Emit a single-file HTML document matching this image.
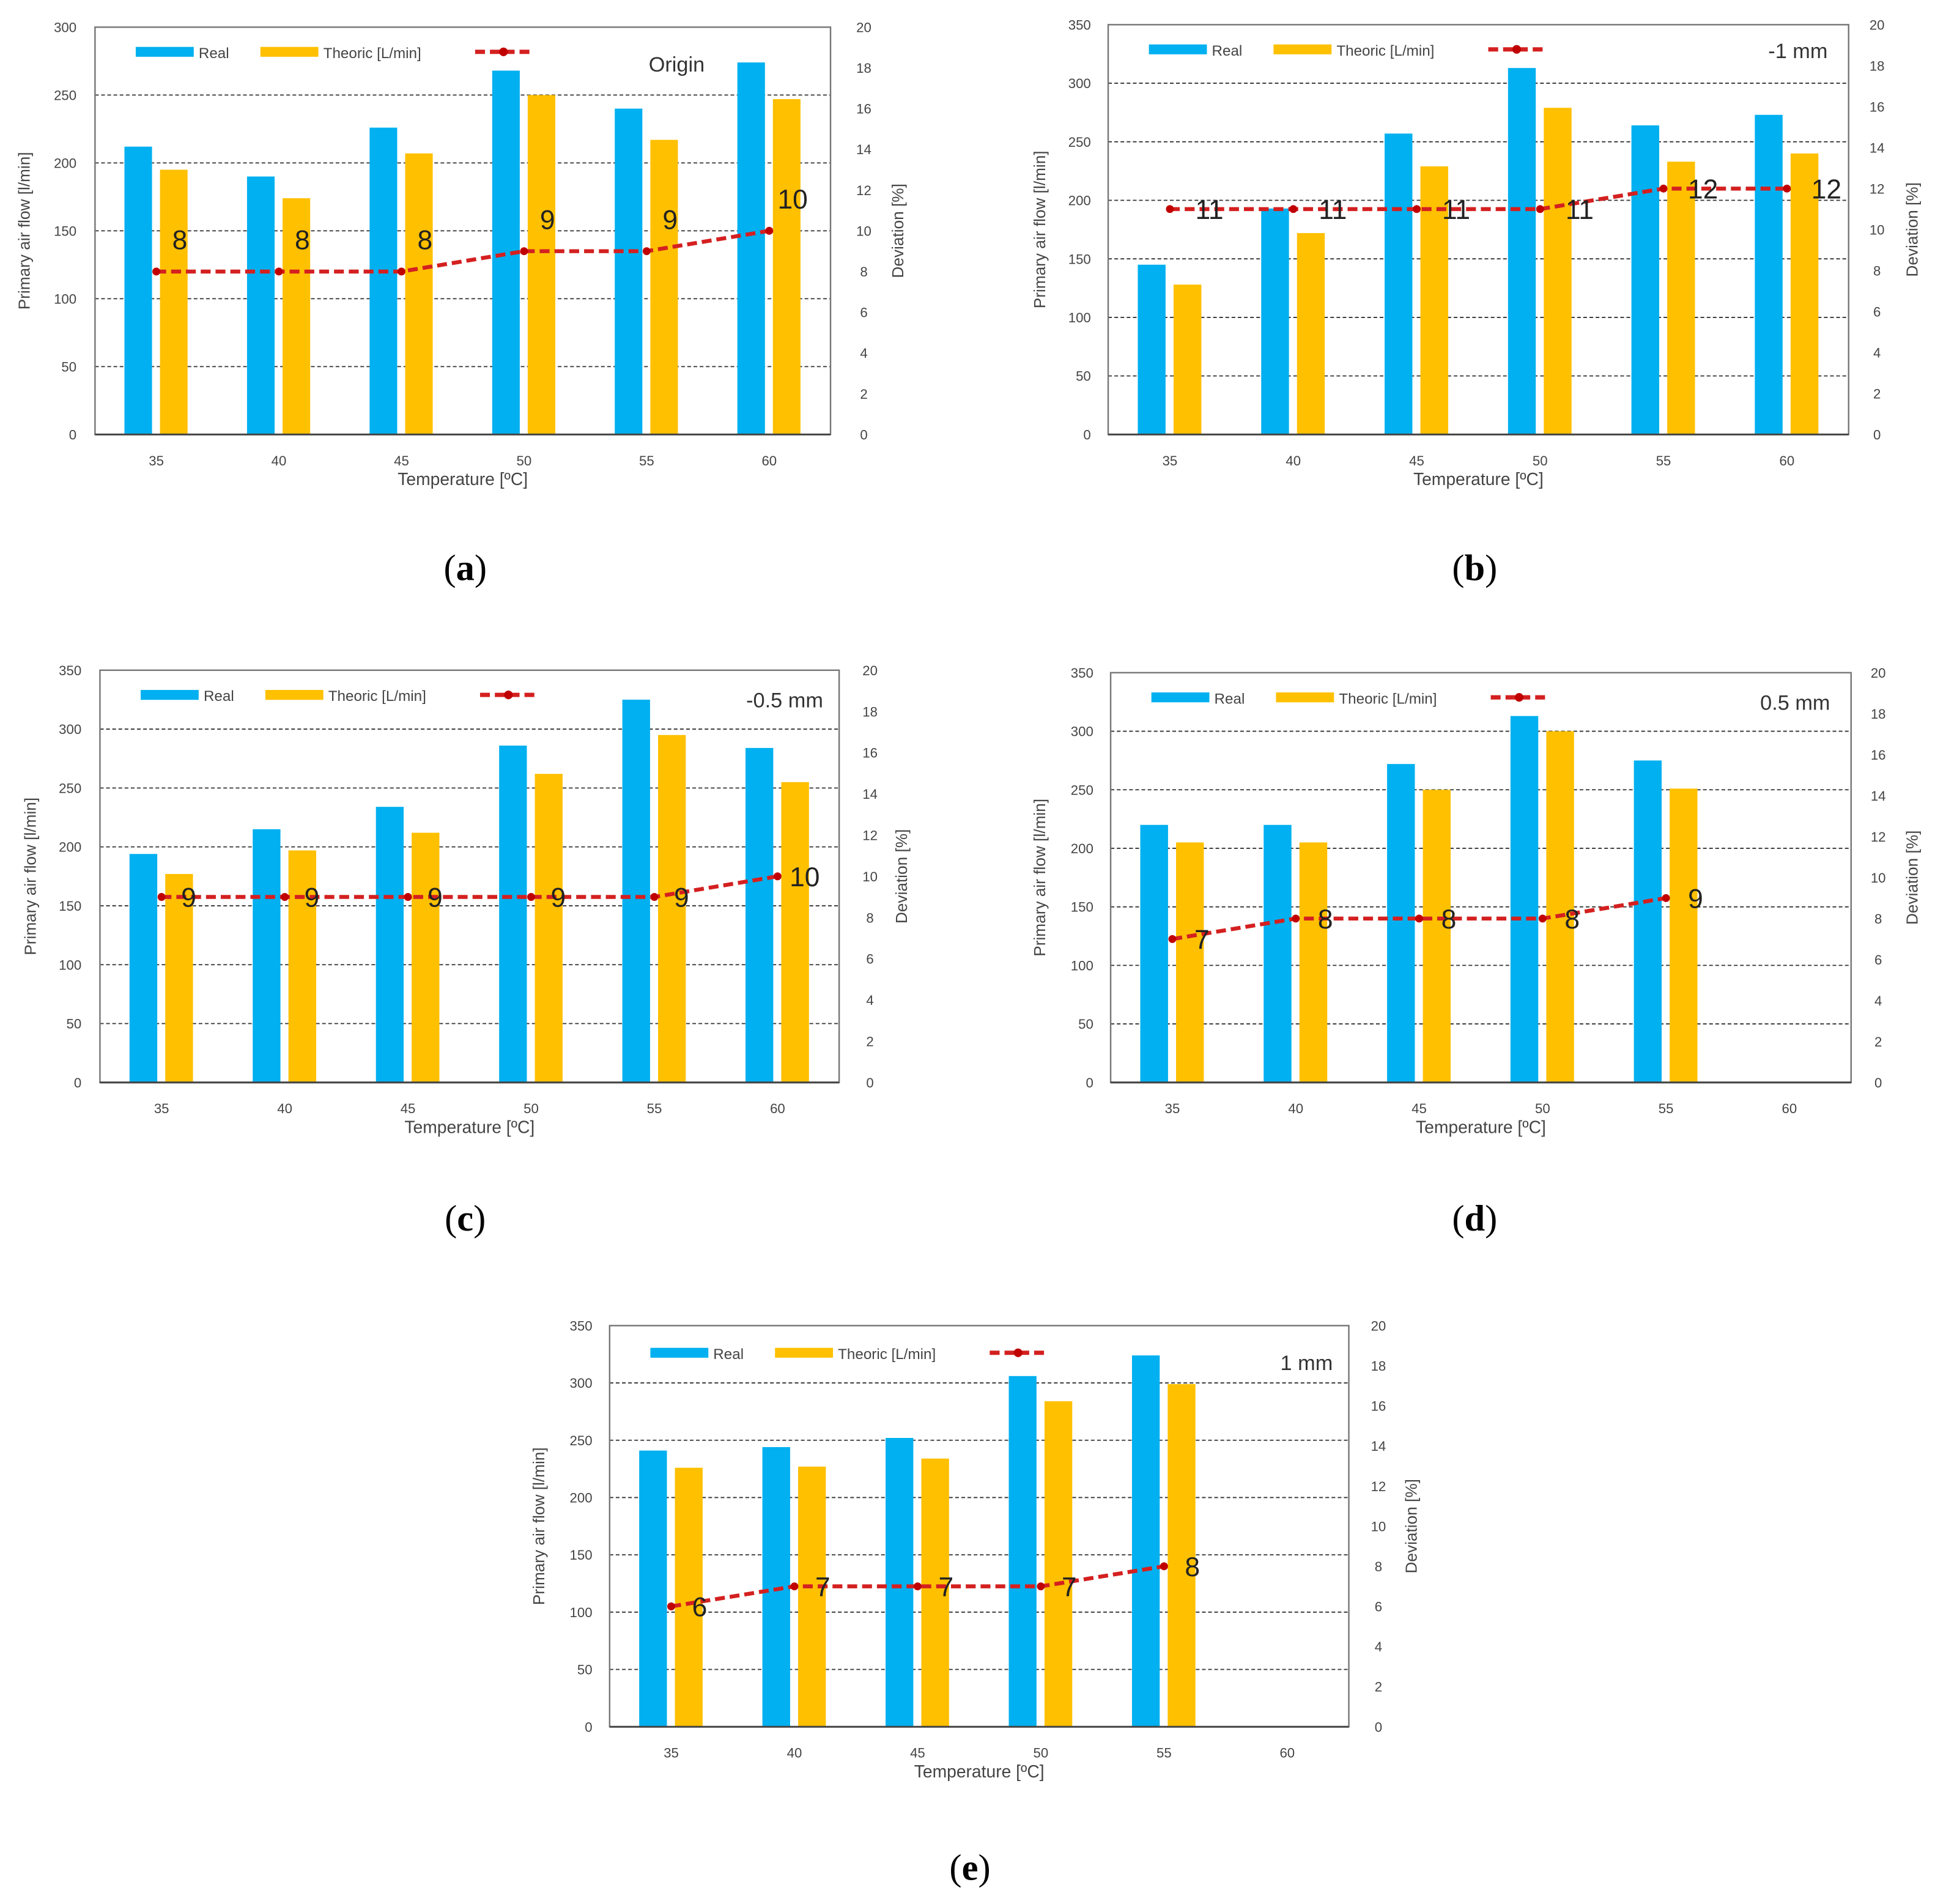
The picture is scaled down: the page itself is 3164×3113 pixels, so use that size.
<!DOCTYPE html>
<html><head><meta charset="utf-8"><style>
html,body{margin:0;padding:0;background:#fff;}
svg{display:block;}
</style></head><body>
<svg id="fig" width="3164" height="3113" viewBox="0 0 1568 1542.6" preserveAspectRatio="none" xmlns="http://www.w3.org/2000/svg"></svg>
<script>
const categories = ["35","40","45","50","55","60"];
const realA = [212,190,226,268,240,274];
const theoA = [195,174,207,250,217,247];
const devA = [8,8,8,9,9,10];
const realB = [145,193,257,313,264,273];
const theoB = [128,172,229,279,233,240];
const devB = [11,11,11,11,12,12];
const realC = [194,215,234,286,325,284];
const theoC = [177,197,212,262,295,255];
const devC = [9,9,9,9,9,10];
const realD = [220,220,272,313,275];
const theoD = [205,205,250,300,251];
const devD = [7,8,8,8,9];
const realE = [241,244,252,306,324];
const theoE = [226,227,234,284,299];
const devE = [6,7,7,7,8];
const rightTicks = [0,2,4,6,8,10,12,14,16,18,20];
const titles = ["Origin","-1 mm","-0.5 mm","0.5 mm","1 mm"];
const panelLabels = ["(a)","(b)","(c)","(d)","(e)"];

const NS="http://www.w3.org/2000/svg";
const svg=document.getElementById('fig');
function mk(tag,attrs,parent,text){const e=document.createElementNS(NS,tag);for(const k in attrs)e.setAttribute(k,attrs[k]);if(text!==undefined)e.textContent=text;(parent||svg).appendChild(e);return e;}

const panels=[
 {L:77,R:673,T:22,B:352,max:300,real:realA,theo:theoA,dev:devA,ll:62,rl:700,yt:20,rt:728,lab:[377,460],tx:571,ty:52,dx:19,dy:-26,ly:42},
 {L:898,R:1498,T:20,B:352,max:350,real:realB,theo:theoB,dev:devB,ll:884,rl:1521,yt:843,rt:1550,lab:[1195,460],tx:1481,ty:41,dx:32,dy:0,ly:40},
 {L:81,R:680,T:543,B:877,max:350,real:realC,theo:theoC,dev:devC,ll:66,rl:705,yt:25,rt:731,lab:[377,987],tx:667,ty:567,dx:22,dy:0,ly:563},
 {L:900,R:1500,T:545,B:877,max:350,real:realD,theo:theoD,dev:devD,ll:886,rl:1522,yt:843,rt:1550,lab:[1195,987],tx:1483,ty:569,dx:24,dy:0,ly:565},
 {L:494,R:1093,T:1074,B:1399,max:350,real:realE,theo:theoE,dev:devE,ll:480,rl:1117,yt:437,rt:1144,lab:[786,1513],tx:1080,ty:1104,dx:23,dy:0,ly:1096}
];
const F='"Liberation Sans", sans-serif';
panels.forEach((p,pi)=>{
 const g=mk('g',{});
 
 
 const cw=(p.R-p.L)/6;
 const y=v=>p.B-(v/p.max)*(p.B-p.T);
 const y2=v=>p.B-(v/20)*(p.B-p.T);
 const cx=i=>p.L+cw*(i+0.5);
 // gridlines & left ticks
 for(let v=0;v<=p.max;v+=50){
   if(v>0&&v<p.max){const gl=mk('line',{x1:p.L,x2:p.R,y1:y(v),y2:y(v),stroke:'#333','stroke-width':0.9,'stroke-dasharray':'3,2'},g);}
   const t=mk('text',{x:p.ll,y:y(v)+4,'text-anchor':'end','font-size':11,fill:'#444','font-family':F},g,String(v));
   
 }
 rightTicks.forEach(v=>{const t=mk('text',{x:p.rl,y:y2(v)+4,'text-anchor':'middle','font-size':11,fill:'#444','font-family':F},g,String(v));});
 // bars
 p.real.forEach((v,i)=>{const r=mk('rect',{x:cx(i)-cw*0.26,y:y(v),width:cw*0.225,height:p.B-y(v),fill:'#00b0f0'},g);});
 p.theo.forEach((v,i)=>{const r=mk('rect',{x:cx(i)+cw*0.03,y:y(v),width:cw*0.225,height:p.B-y(v),fill:'#ffc000'},g);});
 // frame
 const fr=mk('rect',{x:p.L,y:p.T,width:p.R-p.L,height:p.B-p.T,fill:'none',stroke:'#777','stroke-width':1.2},g);
 
 const ax=mk('line',{x1:p.L,x2:p.R,y1:p.B,y2:p.B,stroke:'#444','stroke-width':1.5},g);
 
 // deviation line
 const pts=p.dev.map((v,i)=>cx(i)+','+y2(v)).join(' ');
 const pl=mk('polyline',{points:pts,fill:'none',stroke:'#d42020','stroke-width':3.2,'stroke-dasharray':'8,4'},g);
 
 p.dev.forEach((v,i)=>{
   const c=mk('circle',{cx:cx(i),cy:y2(v),r:3.2,fill:'#c00000'},g);
   
   const t=mk('text',{x:cx(i)+p.dx,y:y2(v)+p.dy+8,'text-anchor':'middle','font-size':22,fill:'#222','font-family':F},g,String(v));
   
 });
 // x labels
 categories.forEach((c,i)=>{const t=mk('text',{x:cx(i),y:p.B+25,'text-anchor':'middle','font-size':11,fill:'#444','font-family':F},g,c);});
 const xt=mk('text',{x:(p.L+p.R)/2,y:p.B+41,'text-anchor':'middle','font-size':14,fill:'#444','font-family':F},g,'Temperature [ºC]');
 
 const mid=(p.T+p.B)/2;
 const yt=mk('text',{x:p.yt,y:mid,'text-anchor':'middle','font-size':13,fill:'#444','font-family':F,transform:`rotate(-90 ${p.yt} ${mid})`,dy:4},g,'Primary air flow [l/min]');
 
 const rt=mk('text',{x:p.rt,y:mid,'text-anchor':'middle','font-size':13,fill:'#444','font-family':F,transform:`rotate(-90 ${p.rt} ${mid})`,dy:4},g,'Deviation [%]');
 
 // legend
 const lx=p.L+33, ly=p.ly;
 const lg=mk('g',{},g);
 
 mk('rect',{x:lx,y:ly-4,width:47,height:8,fill:'#00b0f0'},lg);
 mk('text',{x:lx+51,y:ly+5,'font-size':12,fill:'#444','font-family':F},lg,'Real');
 mk('rect',{x:lx+101,y:ly-4,width:47,height:8,fill:'#ffc000'},lg);
 mk('text',{x:lx+152,y:ly+5,'font-size':12,fill:'#444','font-family':F},lg,'Theoric [L/min]');
 mk('line',{x1:lx+275,x2:lx+322,y1:ly,y2:ly,stroke:'#d42020','stroke-width':3.5,'stroke-dasharray':'8,4'},lg);
 mk('circle',{cx:lx+298,cy:ly,r:3.5,fill:'#c00000'},lg);
 const tt=mk('text',{x:p.tx,y:p.ty+6,'text-anchor':'end','font-size':17,fill:'#333','font-family':F},g,titles[pi]);
 
 const pl2=mk('text',{x:p.lab[0],y:p.lab[1]+10,'text-anchor':'middle','font-size':30,fill:'#000','font-family':'"Liberation Serif", serif'},svg,'');
 
 mk('tspan',{},pl2,'(');
 mk('tspan',{'font-weight':'bold'},pl2,panelLabels[pi].slice(1,-1));
 mk('tspan',{},pl2,')');
});
</script>
</body></html>
